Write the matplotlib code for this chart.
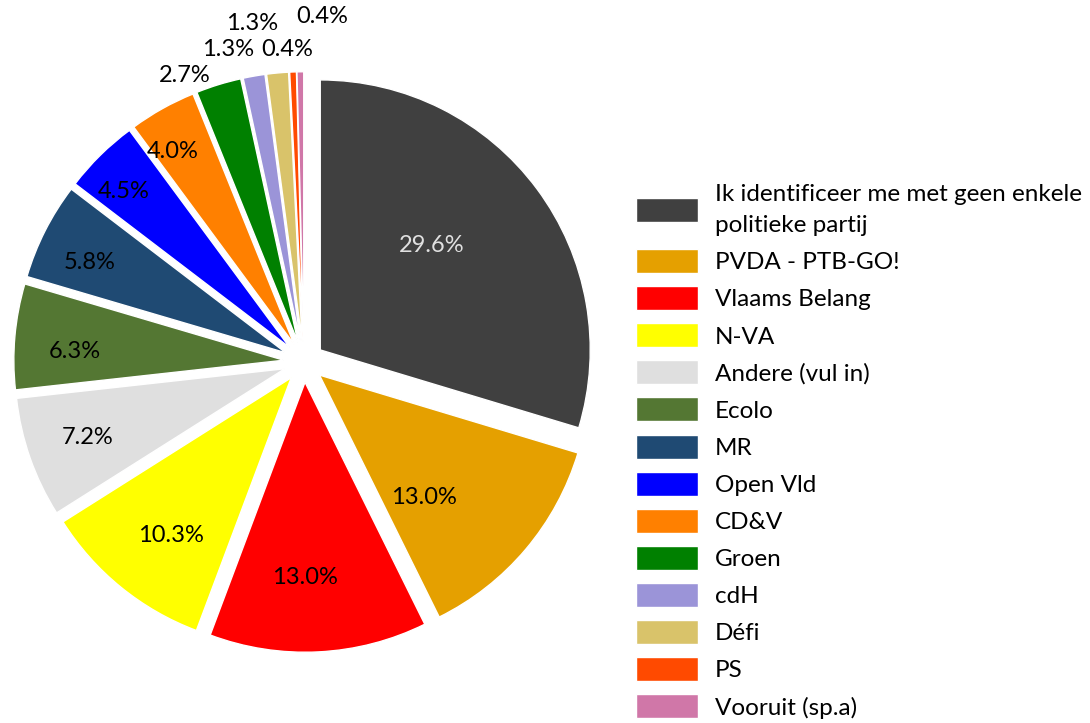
import numpy as np
import matplotlib.pyplot as plt

parties = ["Ik identificeer me met geen enkele\npolitieke partij", "PVDA - PTB-GO!",
           "Vlaams Belang", "N-VA", "Andere (vul in)", "Ecolo", "MR", "Open Vld",
           "CD&V", "Groen", "cdH", "Défi", "PS", "Vooruit (sp.a)"]
shares = [29.6, 13.0, 13.0, 10.3, 7.2, 6.3, 5.8, 4.5, 4.0, 2.7, 1.3, 1.3, 0.4, 0.4]
colors = ["#404040", "#E5A000", "#FF0000", "#FFFF00", "#DFDFDF", "#547733", "#1F4A73",
          "#0000FF", "#FF8000", "#008000", "#9B94D8", "#D9C36A", "#FF4A00", "#D077A8"]

# label placement: distance from centre (in radii) and angle nudge (deg)
lab_r = [0.64, 0.67, 0.80, 0.81, 0.85, 0.85, 0.875, 0.92, 0.92, 1.15, 1.19, 1.27, 1.16, 1.28]
lab_da = [5.6, -8.2, -2.6, 1.8, 0, 2.5, 1.9, 2.0, 2.7, 5.4, 3.8, 3.5, 0.9, -3.8]

plt.rcParams['font.family'] = ['Lato', 'DejaVu Sans']

fig = plt.figure(figsize=(10.9, 7.23), dpi=100)
R = 270.0
cx, cy = 304.0, 723 - 362.0
ax = fig.add_axes([0, 0, 610 / 1090, 1])

explode = [0.075] * len(shares)
wedges, _ = ax.pie(shares, colors=colors, explode=explode, startangle=90, counterclock=False,
                   wedgeprops=dict(edgecolor='white', linewidth=1))
ax.set_aspect('auto')
ax.set_xlim(-cx / R, (610 - cx) / R)
ax.set_ylim(-cy / R, (723 - cy) / R)
ax.axis('off')

for i, w in enumerate(wedges):
    mid = np.deg2rad((w.theta1 + w.theta2) / 2 + lab_da[i])
    r = lab_r[i]
    col = '#E0E0E0' if i == 0 else 'black'
    ax.text(r * np.cos(mid), r * np.sin(mid), f"{shares[i]:.1f}%", ha='center', va='center',
            fontsize=17, color=col)

leg = fig.legend(wedges, parties, loc='upper left', bbox_to_anchor=(636 / 1090, 1 - 184 / 723),
                 frameon=False, fontsize=17.5, handlelength=2.55, handleheight=1.14,
                 labelspacing=0.53, handletextpad=0.7, borderpad=0, borderaxespad=0)
leg.get_texts()[0].set_linespacing(1.6)

fig.savefig("out.png", dpi=100)
